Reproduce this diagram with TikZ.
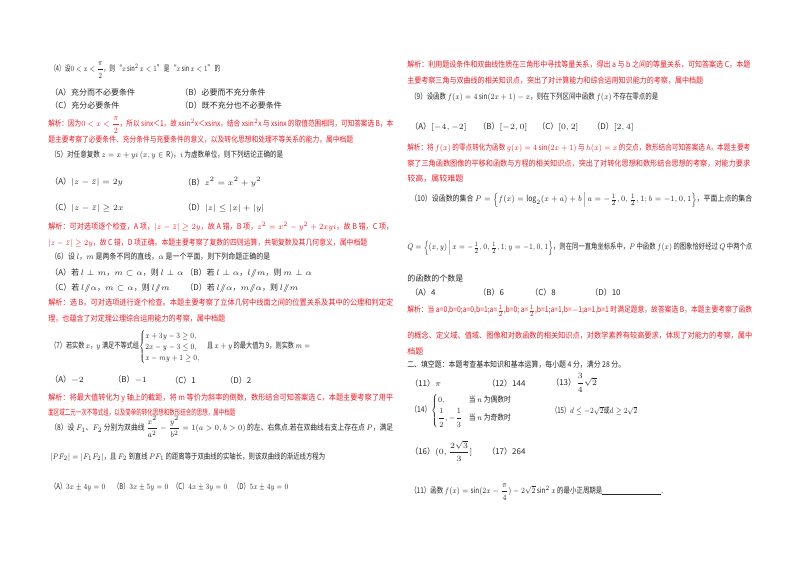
\documentclass[tikz,border=0pt]{standalone}
\usepackage{amsmath,amssymb,graphicx}
\usepackage{fontspec}
\setmainfont{Noto Sans CJK SC}
\definecolor{ans}{RGB}{232,30,40}
\newcommand{\qf}{\fontsize{6}{7}\selectfont}
\newcommand{\pl}{/\!\!/}
\newlength{\pxu}\setlength{\pxu}{0.75pt}
\newcommand{\W}[2]{\resizebox{#1\pxu}{\height}{#2}}
\begin{document}
\begin{tikzpicture}[x=0.75pt,y=-0.75pt,
  t/.style={anchor=west,inner sep=0pt,font=\qf,text=black!85},
  r/.style={t,text=ans}]
\useasboundingbox (0,0) rectangle (800,566);
% ---------------- left column
\node[t] (q4) at (50,70) {\W{170}{（4）设$0<x<\dfrac{\pi}{2}$，则 “$x\sin^2x<1$” 是 “$x\sin x<1$” 的}};
\node[t] (q4a) at (50,92) {（A）充分而不必要条件};
\node[t] (q4b) at (180,92) {（B）必要而不充分条件};
\node[t] (q4c) at (50,105) {（C）充分必要条件};
\node[t] (q4d) at (180,105) {（D）既不充分也不必要条件};
\node[r] (a4a) at (48,125) {\W{345}{解析：因为$0<x<\dfrac{\pi}{2}$，所以 sinx＜1，故 xsin$^2$x＜xsinx，结合 xsin$^2$x 与 xsinx 的取值范围相同，可知答案选 B，本}};
\node[r] (a4b) at (48,140) {\W{305}{题主要考察了必要条件、充分条件与充要条件的意义，以及转化思想和处理不等关系的能力，属中档题}};
\node[t] (q5) at (50,155) {\W{233}{（5）对任意复数 $z=x+yi\left(x,y\in\mathrm{R}\right)$，$i$ 为虚数单位，则下列结论正确的是}};
\node[t] (q5a) at (50,182) {（A）$\left|z-\bar z\right|=2y$};
\node[t] (q5b) at (183,182) {（B）$z^2=x^2+y^2$};
\node[t] (q5c) at (50,208) {（C）$\left|z-\bar z\right|\ge 2x$};
\node[t] (q5d) at (183,208) {（D）$|z|\le|x|+|y|$};
\node[r] (a5a) at (48,227) {\W{345}{解析：可对选项逐个检查，A 项，$|z-\bar z|\ge 2y$，故 A 错，B 项，$z^2=x^2-y^2+2xyi$，故 B 错，C 项，}};
\node[r] (a5b) at (48,243) {\W{319}{$|z-\bar z|\ge 2y$，故 C 错，D 项正确。本题主要考察了复数的四则运算，共轭复数及其几何意义，属中档题}};
\node[t] (q6) at (50,257) {\W{220}{（6）设 $l$，$m$ 是两条不同的直线，$\alpha$ 是一个平面，则下列命题正确的是}};
\node[t] (q6a) at (50,273) {（A）若 $l\perp m$，$m\subset\alpha$，则 $l\perp\alpha$};
\node[t] (q6b) at (185,273) {（B）若 $l\perp\alpha$，$l\pl m$，则 $m\perp\alpha$};
\node[t] (q6c) at (50,288) {（C）若 $l\pl\alpha$，$m\subset\alpha$，则 $l\pl m$};
\node[t] (q6d) at (185,288) {（D）若 $l\pl\alpha$，$m\pl\alpha$，则 $l\pl m$};
\node[r] (a6a) at (48,303) {\W{345}{解析：选 B，可对选项进行逐个检查。本题主要考察了立体几何中线面之间的位置关系及其中的公理和判定定}};
\node[r] (a6b) at (48,319) {\W{177}{理，也蕴含了对定理公理综合运用能力的考察，属中档题}};
\node[t] (q7) at (50,347) {\W{260}{（7）若实数 $x$，$y$ 满足不等式组$\begin{cases}x+3y-3\ge0,\\2x-y-3\le0,\\x-my+1\ge0,\end{cases}$且 $x+y$ 的最大值为 9，则实数 $m=$}};
\node[t] (q7a) at (50,380) {（A）$-2$};
\node[t] (q7b) at (113,380) {（B）$-1$};
\node[t] (q7c) at (170,380) {（C）1};
\node[t] (q7d) at (225,380) {（D）2};
\node[r] (a7a) at (48,398) {\W{345}{解析：将最大值转化为 y 轴上的截距，将 m 等价为斜率的倒数，数形结合可知答案选 C，本题主要考察了用平}};
\node[r] (a7b) at (48,413) {\W{187}{面区域二元一次不等式组，以及简单的转化思想和数形结合的思想，属中档题}};
\node[t] (q8) at (50,427) {\W{343}{（8）设 $F_1$、$F_2$ 分别为双曲线 $\dfrac{x^2}{a^2}-\dfrac{y^2}{b^2}=1(a>0,b>0)$ 的左、右焦点.若在双曲线右支上存在点 $P$，满足}};
\node[t] (q8b) at (50,457) {\W{275}{$\left|PF_2\right|=\left|F_1F_2\right|$，且 $F_2$ 到直线 $PF_1$ 的距离等于双曲线的实轴长，则该双曲线的渐近线方程为}};
\node[t] (q8A) at (50,487) {\W{55}{（A）$3x\pm4y=0$}};
\node[t] (q8B) at (113,487) {\W{55}{（B）$3x\pm5y=0$}};
\node[t] (q8C) at (172,487) {\W{55}{（C）$4x\pm3y=0$}};
\node[t] (q8D) at (233,487) {\W{55}{（D）$5x\pm4y=0$}};
% ---------------- right column
\node[r] (a8a) at (407,65) {\W{343}{解析：利用题设条件和双曲线性质在三角形中寻找等量关系，得出 a 与 b 之间的等量关系，可知答案选 C，本题}};
\node[r] (a8b) at (407,81) {\W{296}{主要考察三角与双曲线的相关知识点，突出了对计算能力和综合运用知识能力的考察，属中档题}};
\node[t] (q9) at (410,97) {\W{248}{（9）设函数 $f(x)=4\sin(2x+1)-x$，则在下列区间中函数 $f(x)$ 不存在零点的是}};
\node[t] (q9a) at (410,127) {（A）$[-4,-2]$};
\node[t] (q9b) at (478,127) {（B）$[-2,0]$};
\node[t] (q9c) at (537,127) {（C）$[0,2]$};
\node[t] (q9d) at (592,127) {（D）$[2,4]$};
\node[r] (a9a) at (407,148) {\W{343}{解析：将 $f(x)$ 的零点转化为函数 $g(x)=4\sin(2x+1)$ 与 $h(x)=x$ 的交点，数形结合可知答案选 A，本题主要考}};
\node[r] (a9b) at (407,164) {\W{343}{察了三角函数图像的平移和函数与方程的相关知识点，突出了对转化思想和数形结合思想的考察，对能力要求}};
\node[r] (a9c) at (407,179) {较高，属较难题};
\node[t] (q10) at (410,200) {\W{342}{（10）设函数的集合 $P=\left\{f(x)=\log_2(x+a)+b\,\middle|\,a=-\tfrac12,0,\tfrac12,1;b=-1,0,1\right\}$，平面上点的集合}};
\node[t] (q10b) at (407,248) {\W{345}{$Q=\left\{(x,y)\,\middle|\,x=-\tfrac12,0,\tfrac12,1;y=-1,0,1\right\}$，则在同一直角坐标系中，$P$ 中函数 $f(x)$ 的图象恰好经过 $Q$ 中两个点}};
\node[t] (q10c) at (407,278) {的函数的个数是};
\node[t] (q10A) at (410,292) {（A）4};
\node[t] (q10B) at (478,292) {（B）6};
\node[t] (q10C) at (530,292) {（C）8};
\node[t] (q10D) at (590,292) {（D）10};
\node[r] (a10a) at (407,311) {\W{345}{解析：当 a=0,b=0;a=0,b=1;a=$\tfrac12$,b=0; a=$\tfrac12$,b=1;a=1,b=$-$1;a=1,b=1 时满足题意，故答案选 B，本题主要考察了函数}};
\node[r] (a10b) at (407,336) {\W{345}{的概念、定义域、值域、图像和对数函数的相关知识点，对数学素养有较高要求，体现了对能力的考察，属中}};
\node[r] (a10c) at (407,351) {档题};
\node[t] (s2) at (407,365) {\W{218}{二、填空题：本题考查基本知识和基本运算，每小题 4 分，满分 28 分。}};
\node[t] (f11) at (410,383) {（11）$\pi$};
\node[t] (f12) at (487,383) {（12）144};
\node[t] (f13) at (551,383) {（13）$\dfrac34\sqrt2$};
\node[t] (f14) at (410,411) {\W{102}{（14）$\begin{cases}0, & \text{\qf 当 $n$ 为偶数时}\\[2pt] \dfrac12,-\dfrac13 & \text{\qf 当 $n$ 为奇数时}\end{cases}$}};
\node[t] (f15) at (551,411) {\W{86}{（15）$d\le-2\sqrt2$或$d\ge2\sqrt2$}};
\node[t] (f16) at (410,451) {（16）$(0,\dfrac{2\sqrt3}{3}]$};
\node[t] (f17) at (487,451) {（17）264};
\node[t] (f11b) at (410,492) {\W{253}{（11）函数 $f(x)=\sin(2x-\dfrac{\pi}{4})-2\sqrt2\sin^2x$ 的最小正周期是\rule[-1pt]{55pt}{0.3pt}.}};
\end{tikzpicture}
\end{document}
